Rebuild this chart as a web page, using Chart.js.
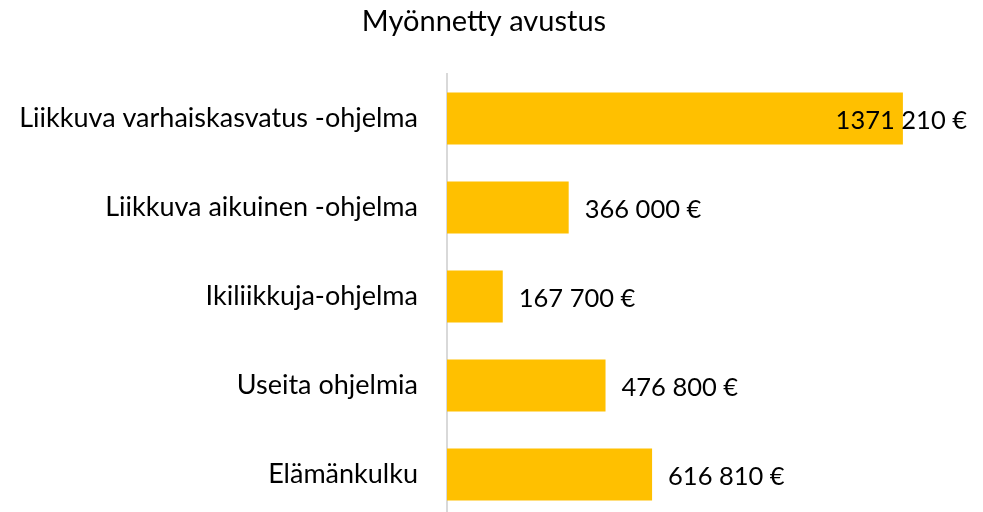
<!DOCTYPE html>
<html lang="fi">
<head>
<meta charset="UTF-8">
<title>Myönnetty avustus</title>
<script src="https://cdn.jsdelivr.net/npm/chart.js@4.4.1/dist/chart.umd.min.js"></script>
<style>
	html, body {
		margin: 0;
		padding: 0;
		background: #fff;
		overflow: hidden;
	}
	.wrapper {
		width: 983px;
		height: 512px;
		overflow: hidden;
	}
</style>
</head>
<body>
<div class="wrapper">
	<canvas id="myChart" width="983" height="519"></canvas>
</div>
<script>
// data
var categories = [
	"Liikkuva varhaiskasvatus -ohjelma",
	"Liikkuva aikuinen -ohjelma",
	"Ikiliikkuja-ohjelma",
	"Useita ohjelmia",
	"Elämänkulku"
];
var grants = [1371210, 366000, 167700, 476800, 616810];
var xMax = 1567000; // axis end (hidden)

var FONT = "Lato, 'Open Sans', sans-serif";

// "1371 210 €" style, as in the original sheet
function formatEuro(v) {
	var th = Math.floor(v / 1000);
	var rest = String(v % 1000);
	while (rest.length < 3) rest = "0" + rest;
	return th + " " + rest + " €";
}

// value labels drawn after the bars, kept inside the canvas
var valueLabels = {
	id: "valueLabels",
	afterDatasetsDraw: function (chart) {
		var ctx = chart.ctx;
		var meta = chart.getDatasetMeta(0);
		ctx.save();
		ctx.font = "25.5px " + FONT;
		ctx.fillStyle = "#000";
		ctx.textBaseline = "middle";
		ctx.textAlign = "left";
		meta.data.forEach(function (bar, i) {
			var txt = formatEuro(grants[i]);
			var w = ctx.measureText(txt).width;
			var x = bar.x + 16;
			if (x + w > 967) x = 967 - w;
			ctx.fillText(txt, x, bar.y + 2);
		});
		ctx.restore();
	}
};

var ctx = document.getElementById("myChart").getContext("2d");
var chart = new Chart(ctx, {
	type: "bar",
	data: {
		labels: categories,
		datasets: [{
			label: "Myönnetty avustus",
			data: grants,
			backgroundColor: "#FFC000",
			borderWidth: 0,
			categoryPercentage: 1,
			barPercentage: 0.585
		}]
	},
	options: {
		indexAxis: "y",
		responsive: false,
		maintainAspectRatio: false,
		animation: false,
		layout: {
			padding: { left: 0, right: 15, top: 0, bottom: 0 }
		},
		plugins: {
			legend: { display: false },
			tooltip: { enabled: false },
			title: {
				display: true,
				text: "Myönnetty avustus",
				color: "#000",
				font: { family: FONT, size: 29, weight: "normal", lineHeight: 1.2 },
				padding: { top: 4, bottom: 35.2 }
			}
		},
		scales: {
			x: {
				display: false,
				min: 0,
				max: xMax
			},
			y: {
				afterFit: function (scale) {
					scale.width = 447;
					// the tick padding would otherwise push the plot up from the bottom
					scale.paddingTop = 0;
					scale.paddingBottom = 0;
				},
				grid: { display: false, drawTicks: false },
				border: { display: true, color: "#d9d9d9", width: 2 },
				ticks: {
					color: "#000",
					padding: 29,
					font: { family: FONT, size: 27 }
				}
			}
		}
	},
	plugins: [valueLabels]
});
</script>
</body>
</html>
